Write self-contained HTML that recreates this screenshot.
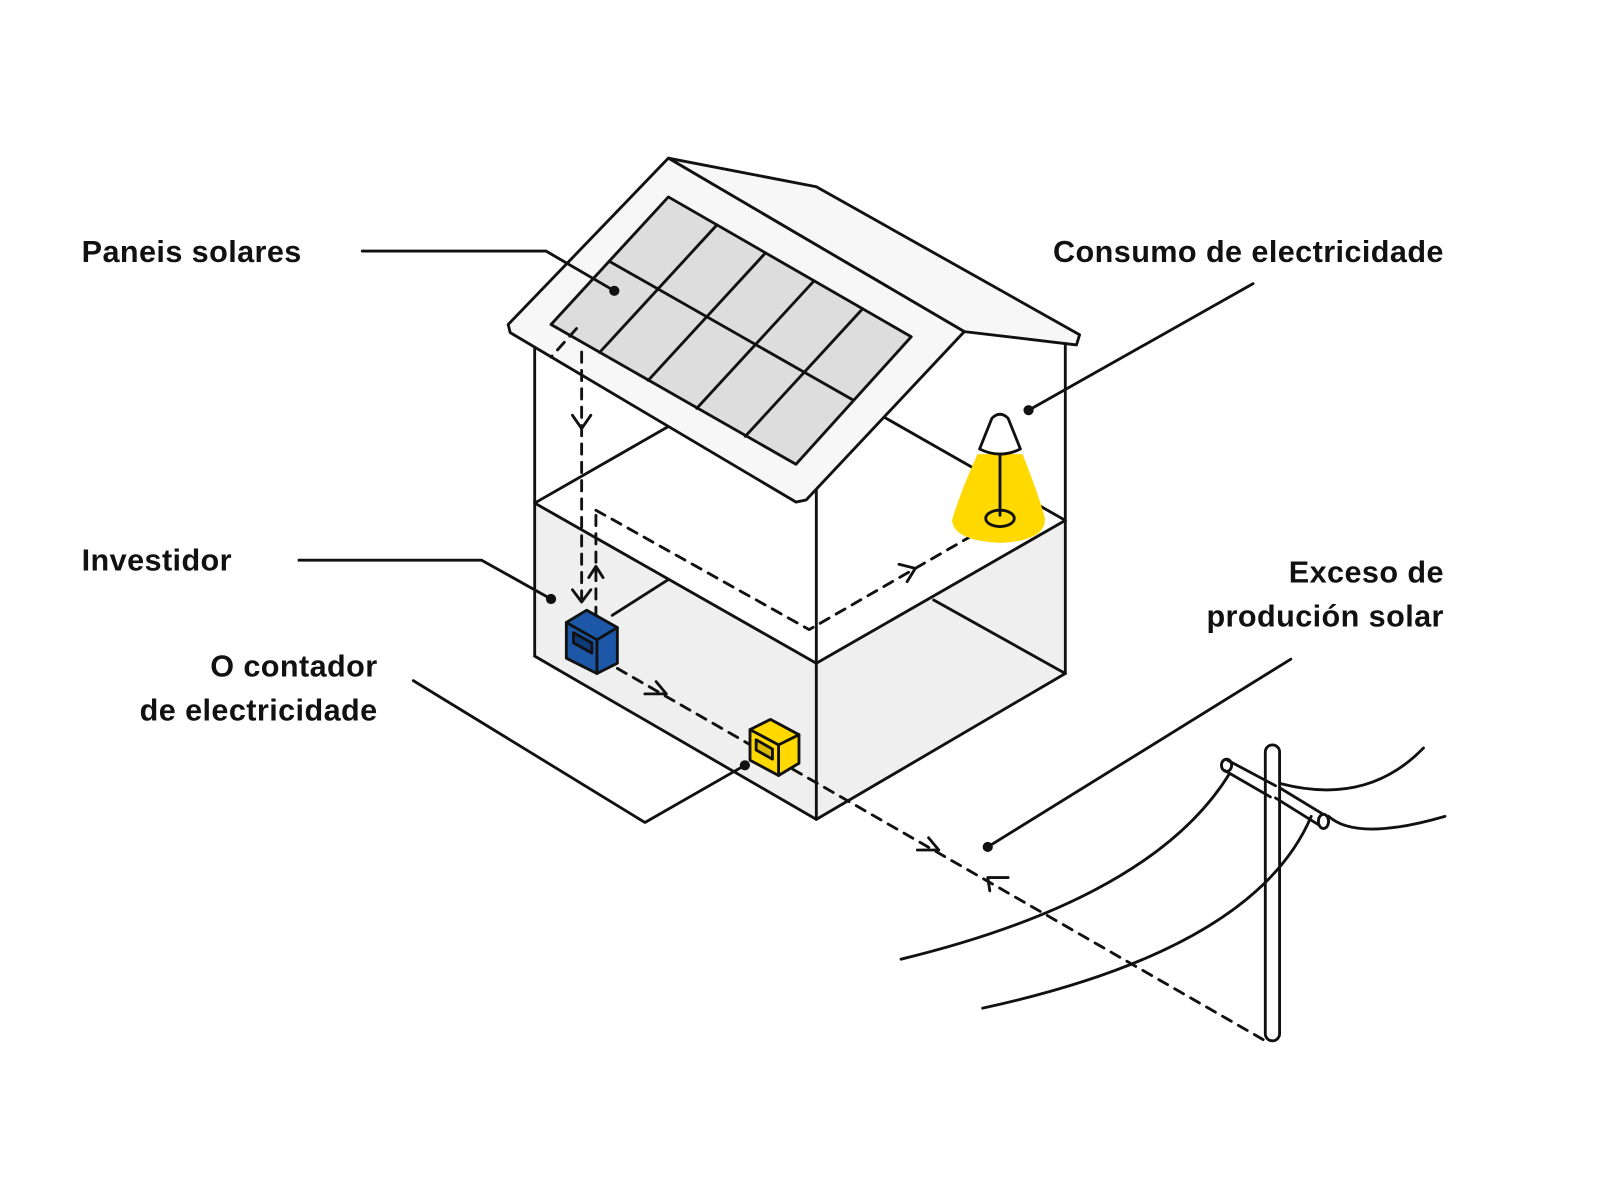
<!DOCTYPE html>
<html><head><meta charset="utf-8"><style>
html,body{margin:0;padding:0;background:#fff;}
svg{display:block}
text{font-family:"Liberation Sans",sans-serif;font-weight:bold;font-size:30px;fill:#111;letter-spacing:0.4px}
</style></head><body>
<svg width="1600" height="1200" viewBox="0 0 1568 1176" xmlns="http://www.w3.org/2000/svg">
<g stroke="#111" stroke-width="2.8" fill="none" stroke-linejoin="round" stroke-linecap="round">
<polygon points="524,493 800,650 800,803 524,643" fill="#efefef" stroke="none"/>
<polygon points="800,650 1044,510 1044,660 800,803" fill="#efefef" stroke="none"/>
<line x1="524" y1="493" x2="655" y2="418"/>
<line x1="865" y1="408" x2="1044" y2="510"/>
<line x1="600" y1="603" x2="655" y2="568"/>
<line x1="915" y1="588" x2="1044" y2="660"/>
<line x1="524" y1="340" x2="524" y2="643"/>
<line x1="800" y1="478" x2="800" y2="803"/>
<line x1="1044" y1="338" x2="1044" y2="660"/>
<polyline points="524,643 800,803 1044,660"/>
<polyline points="524,493 800,650 1044,510"/>
<polygon points="655,155 800,183 1058,328 1055,338 945,325" fill="#f7f7f7"/>
<polygon points="498,318 655,155 945,325 790,490 780,492 500,326" fill="#f7f7f7"/>
<polygon points="540,318 655,193 893,330 780,455" fill="#ddd"/>
<line x1="597" y1="256" x2="836" y2="392"/>
<line x1="702.6" y1="220.4" x2="587.6" y2="345.4"/>
<line x1="750.2" y1="247.8" x2="635.2" y2="372.8"/>
<line x1="797.8" y1="275.2" x2="682.8" y2="400.2"/>
<line x1="845.4" y1="302.6" x2="730.4" y2="427.6"/>
<g stroke-dasharray="10,8">
<line x1="565" y1="322" x2="540" y2="350"/>
<line x1="570" y1="345" x2="570" y2="590"/>
<line x1="584" y1="605" x2="584" y2="500"/>
<polyline points="584,500 793,617 975,512"/>
<line x1="605" y1="655" x2="1240" y2="1020"/>
</g>
<polyline points="561,407 570,420 579,407"/>
<polyline points="561,578 570,590 579,578"/>
<polyline points="577,566 584,555 591,566"/>
<polyline points="881,553 897,557 889,570"/>
<polyline points="632,680 653,680 643,668"/>
<polyline points="899,833 920,833 910,821"/>
<polyline points="988,860 968,860 970,873"/>
<path d="M958,445 L1002,445 Q1018,485 1024,508 Q1025,530 980,532 Q935,530 933,510 Q940,485 958,445Z" fill="#ffd900" stroke="none"/>
<path d="M972,410 Q980,402 988,410 L1000,440 Q980,450 960,440 Z" fill="#fff"/>
<line x1="980" y1="445" x2="980" y2="505"/>
<ellipse cx="980" cy="508" rx="14" ry="8"/>
<polygon points="555,610 575,598 605,615 605,650 585,660 555,645" fill="#1d57a8"/>
<polyline points="555,610 585,627 605,615"/><line x1="585" y1="627" x2="585" y2="660"/>
<polygon points="562,620 580,630 580,640 562,630" fill="#0e3b7a"/>
<polygon points="735,715 755,705 783,720 783,748 763,760 735,745" fill="#ffd900"/>
<polyline points="735,715 763,730 783,720"/><line x1="763" y1="730" x2="763" y2="760"/>
<polygon points="741,725 757,734 757,744 741,735" fill="#d8b800"/>
<rect x="1240" y="730" width="14" height="290" rx="7" fill="#fff"/>
<path d="M1203,745 L1250,770 M1200,755 L1245,781"/>
<ellipse cx="1202" cy="750" rx="5" ry="6"/>
<path d="M1254,772 L1300,800 M1250,782 L1295,810" />
<ellipse cx="1297" cy="805" rx="5" ry="7" fill="#fff"/>
<path d="M883,940 Q1130,880 1205,758"/>
<path d="M963,988 Q1230,930 1285,800"/>
<path d="M1255,768 Q1340,790 1395,733"/>
<path d="M1302,800 Q1330,825 1416,800"/>
<polyline points="355,246 535,246 602,285"/>
<line x1="1228" y1="278" x2="1008" y2="402"/>
<polyline points="293,549 472,549 540,587"/>
<polyline points="405,667 632,806 730,750"/>
<line x1="1265" y1="646" x2="968" y2="830"/>
</g>
<g fill="#111">
<circle cx="602" cy="285" r="5"/><circle cx="1008" cy="402" r="5"/>
<circle cx="540" cy="587" r="5"/><circle cx="730" cy="750" r="5"/><circle cx="968" cy="830" r="5"/>
</g>
<text x="80" y="257">Paneis solares</text>
<text x="1415" y="257" text-anchor="end">Consumo de electricidade</text>
<text x="80" y="559">Investidor</text>
<text x="370" y="663" text-anchor="end">O contador</text>
<text x="370" y="706" text-anchor="end">de electricidade</text>
<text x="1415" y="571" text-anchor="end">Exceso de</text>
<text x="1415" y="614" text-anchor="end">produción solar</text>
</svg>
</body></html>
